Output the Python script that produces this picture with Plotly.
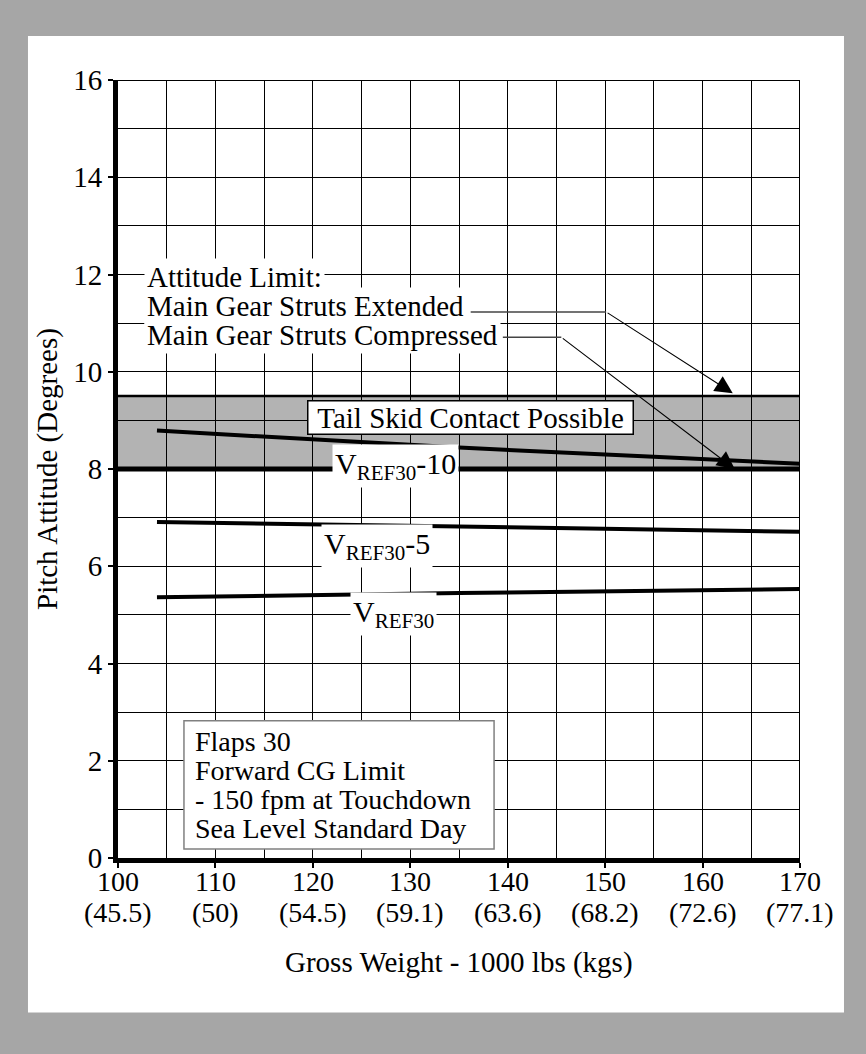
import plotly.graph_objects as go

FONT = "Liberation Serif, Times New Roman, serif"

# ---- data ----
weight_lbs = [100, 110, 120, 130, 140, 150, 160, 170]
weight_kgs = ["(45.5)", "(50)", "(54.5)", "(59.1)", "(63.6)", "(68.2)", "(72.6)", "(77.1)"]
pitch_ticks = [0, 2, 4, 6, 8, 10, 12, 14, 16]

vref30_m10_x = [104, 117.5, 135, 155, 170]
vref30_m10_y = [8.79, 8.64, 8.44, 8.25, 8.11]
vref30_m5_x = [104, 135, 170]
vref30_m5_y = [6.91, 6.82, 6.71]
vref30_x = [104, 135, 170]
vref30_y = [5.36, 5.45, 5.53]

tail_skid_low = 8.0
tail_skid_high = 9.5

curve_labels = ["V<sub>REF30</sub>-10", "V<sub>REF30</sub>-5", "V<sub>REF30</sub>"]
curve_label_x = [128.5, 126.6, 128.3]
curve_label_y = [8.07, 6.42, 5.02]

limit_lines = ["Attitude Limit:", "Main Gear Struts Extended", "Main Gear Struts Compressed"]
limit_line_y = [11.95, 11.35, 10.76]

note_lines = ["Flaps 30", "Forward CG Limit", "- 150 fpm at Touchdown", "Sea Level Standard Day"]
note_line_y = [2.39, 1.80, 1.21, 0.61]

# leader geometry (tail x0, x1, y) -> arrow head (x, y)
ext_leader = dict(x0=136.2, x1=150.1, y=11.23, hx=163.1, hy=9.56)
cmp_leader = dict(x0=139.5, x1=145.5, y=10.71, hx=163.3, hy=8.0)

fig = go.Figure()

for xs, ys in [(vref30_m10_x, vref30_m10_y), (vref30_m5_x, vref30_m5_y), (vref30_x, vref30_y)]:
    fig.add_trace(go.Scatter(x=xs, y=ys, mode="lines",
                             line=dict(color="black", width=4), showlegend=False,
                             hoverinfo="skip"))

for ld in (ext_leader, cmp_leader):
    fig.add_trace(go.Scatter(x=[ld["x0"], ld["x1"]], y=[ld["y"], ld["y"]], mode="lines",
                             line=dict(color="#444444", width=1.5), showlegend=False,
                             hoverinfo="skip"))

shapes = []
# white page frame on gray
shapes.append(dict(type="rect", xref="paper", yref="paper",
                   x0=-0.1320, x1=1.0645, y0=-0.1987, y1=1.0565,
                   fillcolor="white", line=dict(width=0), layer="below"))
# tail skid band
shapes.append(dict(type="rect", xref="x", yref="y", x0=100, x1=170,
                   y0=tail_skid_low, y1=tail_skid_high,
                   fillcolor="#b3b3b3", line=dict(width=0), layer="below"))
shapes.append(dict(type="line", xref="x", yref="y", x0=100, x1=170,
                   y0=tail_skid_high, y1=tail_skid_high,
                   line=dict(color="black", width=2.5)))
shapes.append(dict(type="line", xref="x", yref="y", x0=100, x1=170,
                   y0=tail_skid_low, y1=tail_skid_low,
                   line=dict(color="black", width=5)))
# top and right frame
shapes.append(dict(type="line", xref="x", yref="y", x0=100, x1=170, y0=16, y1=16,
                   line=dict(color="black", width=2)))
shapes.append(dict(type="line", xref="x", yref="y", x0=170, x1=170, y0=0, y1=16,
                   line=dict(color="black", width=2)))
# note box
shapes.append(dict(type="rect", xref="x", yref="y", x0=106.77, x1=138.6, y0=0.185, y1=2.824,
                   fillcolor="white", line=dict(color="#808080", width=1.5), layer="above"))

annotations = []
tf = dict(family=FONT, size=29, color="black")
kf = dict(family=FONT, size=28, color="black")
nf = dict(family=FONT, size=28, color="black")

# two-row x tick labels: lbs and kgs
for w, k in zip(weight_lbs, weight_kgs):
    annotations.append(dict(x=w, y=0, xref="x", yref="y", text=str(w), showarrow=False,
                            xanchor="center", yanchor="middle", yshift=-23, font=kf))
    annotations.append(dict(x=w, y=0, xref="x", yref="y", text=k, showarrow=False,
                            xanchor="center", yanchor="middle", yshift=-54, font=kf))
# axis titles
annotations.append(dict(x=0.5, y=0, xref="paper", yref="paper",
                        text="Gross Weight - 1000 lbs (kgs)", showarrow=False,
                        xanchor="center", yanchor="middle", yshift=-104, font=tf))
annotations.append(dict(x=0, y=0.5, xref="paper", yref="paper",
                        text="Pitch Attitude (Degrees)", showarrow=False, textangle=-90,
                        xanchor="center", yanchor="middle", xshift=-71, font=tf))
# tail skid label
annotations.append(dict(x=136.23, y=9.05, xref="x", yref="y",
                        text="Tail Skid Contact Possible", showarrow=False,
                        xanchor="center", yanchor="middle", font=tf,
                        bgcolor="white", bordercolor="black", borderwidth=1.5, borderpad=0,
                        width=324))
# curve labels
for t, lx, ly in zip(curve_labels, curve_label_x, curve_label_y):
    annotations.append(dict(x=lx, y=ly, xref="x", yref="y", text=t, showarrow=False,
                            xanchor="center", yanchor="middle",
                            font=dict(family=FONT, size=30, color="black"),
                            bgcolor="white", borderpad=2))
# limit labels
for t, ly in zip(limit_lines, limit_line_y):
    annotations.append(dict(x=102.7, y=ly, xref="x", yref="y", text=t, showarrow=False,
                            xanchor="left", yanchor="middle", font=tf,
                            bgcolor="white", borderpad=2))
# leader arrows
for ld in (ext_leader, cmp_leader):
    annotations.append(dict(x=ld["hx"], y=ld["hy"], ax=ld["x1"], ay=ld["y"],
                            xref="x", yref="y", axref="x", ayref="y", text="",
                            showarrow=True, arrowhead=2, arrowsize=3.2, arrowwidth=1.1,
                            arrowcolor="black"))
# note lines
for t, ly in zip(note_lines, note_line_y):
    annotations.append(dict(x=107.7, y=ly, xref="x", yref="y", text=t, showarrow=False,
                            xanchor="left", yanchor="middle", font=nf))

fig.update_layout(
    width=866, height=1054,
    margin=dict(l=118, r=66, t=80, b=196),
    paper_bgcolor="#a6a6a6", plot_bgcolor="white",
    font=dict(family=FONT, size=29, color="black"),
    shapes=shapes, annotations=annotations, showlegend=False,
    xaxis=dict(range=[100, 170], tickvals=weight_lbs, showticklabels=False,
               showgrid=True, gridcolor="black", gridwidth=1,
               minor=dict(dtick=5, showgrid=True, gridcolor="black", gridwidth=1, ticks=""),
               showline=True, linecolor="black", linewidth=5,
               ticks="outside", ticklen=5, tickwidth=1.5, tickcolor="black",
               zeroline=False, fixedrange=True),
    yaxis=dict(range=[0, 16], tickvals=pitch_ticks,
               showgrid=True, gridcolor="black", gridwidth=1,
               minor=dict(dtick=1, showgrid=True, gridcolor="black", gridwidth=1, ticks=""),
               showline=True, linecolor="black", linewidth=5,
               ticks="outside", ticklen=5, tickwidth=1.5, tickcolor="black",
               tickfont=dict(family=FONT, size=29), zeroline=False, fixedrange=True),
)

fig.write_html(
    "out.html",
    config={"displayModeBar": False},
    post_script="document.body.style.margin='0px';document.body.style.backgroundColor='#a6a6a6';",
)
